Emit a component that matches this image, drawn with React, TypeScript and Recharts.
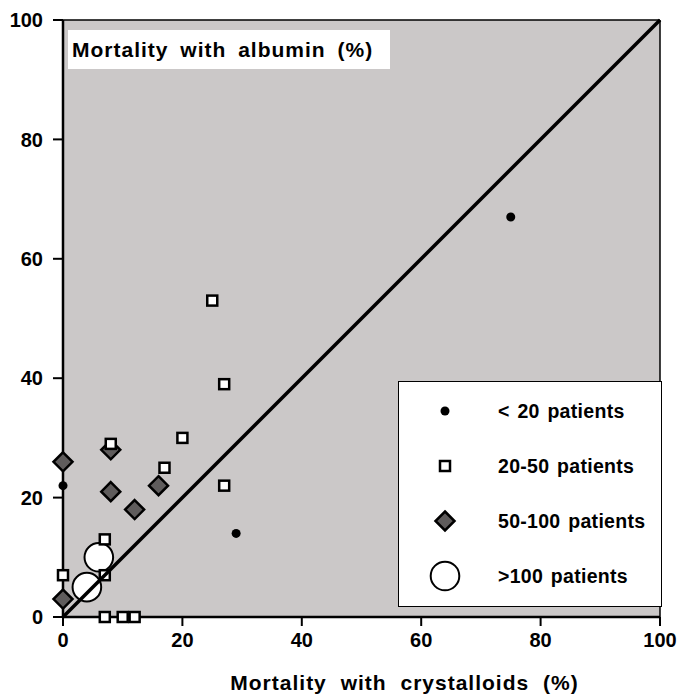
import React from 'react';
import {
  ScatterChart,
  Scatter,
  XAxis,
  YAxis,
  CartesianGrid,
  ReferenceLine,
  Legend,
  Label,
} from 'recharts';

const xTicks = [0, 20, 40, 60, 80, 100];
const yTicks = [0, 20, 40, 60, 80, 100];

const smallTrials = [
  { x: 0, y: 22 },
  { x: 29, y: 14 },
  { x: 75, y: 67 },
];

const mediumTrials = [
  { x: 25, y: 53 },
  { x: 27, y: 39 },
  { x: 20, y: 30 },
  { x: 17, y: 25 },
  { x: 27, y: 22 },
  { x: 8, y: 29 },
  { x: 7, y: 13 },
  { x: 0, y: 7 },
  { x: 7, y: 7 },
  { x: 7, y: 0 },
  { x: 10, y: 0 },
  { x: 12, y: 0 },
];

const largeTrials = [
  { x: 0, y: 26 },
  { x: 8, y: 28 },
  { x: 8, y: 21 },
  { x: 12, y: 18 },
  { x: 16, y: 22 },
  { x: 0, y: 3 },
];

const hugeTrials = [
  { x: 6, y: 10 },
  { x: 4, y: 5 },
];

const identityLine = [
  { x: 0, y: 0 },
  { x: 100, y: 100 },
];

const seriesNames = ['< 20 patients', '20-50 patients', '50-100 patients', '>100 patients'];

const FONT = '"Liberation Sans", Arial, Helvetica, sans-serif';
const BG = '#cbc8c8';
const DIAMOND = '#5f5c5c';

const DotShape = (p: any) => <circle cx={p.cx} cy={p.cy} r={4.5} fill="#000" />;
const SquareShape = (p: any) => (
  <rect x={p.cx - 5} y={p.cy - 5} width={10} height={10} fill="#fff" stroke="#000" strokeWidth={2.5} />
);
const DiamondShape = (p: any) => (
  <path
    d={`M${p.cx},${p.cy - 9.5} L${p.cx + 9.5},${p.cy} L${p.cx},${p.cy + 9.5} L${p.cx - 9.5},${p.cy} Z`}
    fill={DIAMOND}
    stroke="#000"
    strokeWidth={2.5}
    strokeLinejoin="miter"
  />
);
const BigCircleShape = (p: any) => (
  <circle cx={p.cx} cy={p.cy} r={14.3} fill="#fff" stroke="#000" strokeWidth={2} />
);
const NoShape = () => <g />;

const legendSymbol = (i: number) => {
  if (i === 0) return <circle cx={20} cy={20} r={4.5} fill="#000" />;
  if (i === 1) return <rect x={15} y={15} width={10} height={10} fill="#fff" stroke="#000" strokeWidth={2.5} />;
  if (i === 2)
    return <path d="M20,10.5 L29.5,20 L20,29.5 L10.5,20 Z" fill={DIAMOND} stroke="#000" strokeWidth={2.5} />;
  return <circle cx={20} cy={20} r={14.3} fill="#fff" stroke="#000" strokeWidth={2} />;
};

const LegendBox = (props: any) => {
  const payload = (props.payload || []).filter((e: any) => seriesNames.includes(e.value));
  return (
    <div
      style={{
        position: 'relative',
        width: 264,
        height: 226,
        boxSizing: 'border-box',
        background: '#fff',
        border: '1.5px solid #000',
        fontFamily: FONT,
      }}
    >
      {payload.map((entry: any) => {
        const idx = seriesNames.indexOf(entry.value);
        return (
          <div key={entry.value} style={{ position: 'absolute', left: 0, top: 29 + idx * 55 - 20, height: 40, width: 262 }}>
            <svg width={40} height={40} style={{ position: 'absolute', left: 26, top: 0 }}>
              {legendSymbol(idx)}
            </svg>
            <span
              style={{
                position: 'absolute',
                left: 99,
                top: 9,
                fontSize: 19.5,
                fontWeight: 'bold',
                lineHeight: '22px',
                letterSpacing: 0.3,
                wordSpacing: 2,
                whiteSpace: 'nowrap',
                color: '#000',
              }}
            >
              {entry.value}
            </span>
          </div>
        );
      })}
    </div>
  );
};

const TitleLabel = (props: any) => {
  const vb = props.viewBox || { x: 8, y: 20, width: 55 };
  const x = vb.x + vb.width + 5;
  const y = vb.y + 10;
  return (
    <g>
      <rect x={x} y={y} width={322} height={39} fill="#fff" />
      <text
        x={x + 4}
        y={y + 27}
        fontFamily={FONT}
        fontWeight="bold"
        fontSize={21}
        letterSpacing={1}
        wordSpacing={5}
        fill="#000"
      >
        Mortality with albumin (%)
      </text>
    </g>
  );
};

const XTitle = (props: any) => {
  const vb = props.viewBox || { x: 63, y: 617, width: 597, height: 80 };
  return (
    <text
      x={vb.x + vb.width / 2 + 43}
      y={vb.y + 73}
      textAnchor="middle"
      fontFamily={FONT}
      fontWeight="bold"
      fontSize={21}
      letterSpacing={1}
      wordSpacing={7}
      fill="#000"
    >
      Mortality with crystalloids (%)
    </text>
  );
};

const XTick = (p: any) => (
  <text
    x={p.x}
    y={p.y}
    dy="0.72em"
    textAnchor="middle"
    fontFamily={FONT}
    fontWeight="bold"
    fontSize={20}
    fill="#000"
  >
    {p.payload.value}
  </text>
);

const YTick = (p: any) => (
  <text
    x={p.x}
    y={p.y}
    dy="0.36em"
    textAnchor="end"
    fontFamily={FONT}
    fontWeight="bold"
    fontSize={20}
    fill="#000"
  >
    {p.payload.value}
  </text>
);

const pageCss = `html,body{margin:0;padding:0;overflow:hidden;} .recharts-surface{overflow:visible !important;}`;

export default function App() {
  return (
    <div style={{ width: 677, height: 697 }}>
      <style>{pageCss}</style>
      <ScatterChart width={677} height={697} margin={{ top: 20, right: 17, bottom: 0, left: 8 }}>
        <CartesianGrid horizontal={false} vertical={false} fill={BG} fillOpacity={1} />
        <ReferenceLine y={100} stroke="#000" strokeWidth={1.5} />
        <ReferenceLine x={100} stroke="#000" strokeWidth={1.5} />
        <XAxis
          type="number"
          dataKey="x"
          domain={[0, 100]}
          ticks={xTicks}
          interval={0}
          height={80}
          tickSize={9}
          tickMargin={7}
          axisLine={{ stroke: '#000', strokeWidth: 2.5 }}
          tickLine={{ stroke: '#000', strokeWidth: 2 }}
          tick={<XTick />}
        >
          <Label content={<XTitle />} />
        </XAxis>
        <YAxis
          type="number"
          dataKey="y"
          domain={[0, 100]}
          ticks={yTicks}
          interval={0}
          width={55}
          tickSize={10}
          tickMargin={10}
          axisLine={{ stroke: '#000', strokeWidth: 2.5 }}
          tickLine={{ stroke: '#000', strokeWidth: 2 }}
          tick={<YTick />}
        >
          <Label content={<TitleLabel />} />
        </YAxis>
        <Legend
          layout="vertical"
          align="center"
          verticalAlign="middle"
          content={<LegendBox />}
          wrapperStyle={{ left: 398, top: 381, width: 264, height: 226 }}
        />
        <Scatter name={seriesNames[2]} data={largeTrials} shape={DiamondShape} isAnimationActive={false} />
        <Scatter name={seriesNames[3]} data={hugeTrials} shape={BigCircleShape} isAnimationActive={false} />
        <Scatter name={seriesNames[1]} data={mediumTrials} shape={SquareShape} isAnimationActive={false} />
        <Scatter name={seriesNames[0]} data={smallTrials} shape={DotShape} isAnimationActive={false} />
        <Scatter
          name="identity"
          data={identityLine}
          line={{ stroke: '#000', strokeWidth: 3.5 }}
          shape={NoShape}
          legendType="none"
          isAnimationActive={false}
        />
      </ScatterChart>
    </div>
  );
}
